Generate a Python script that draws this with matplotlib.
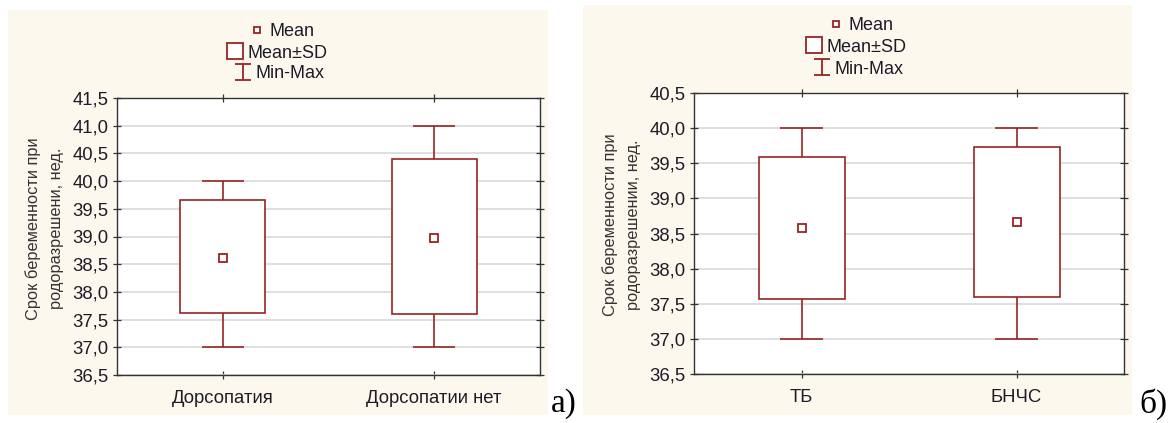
import matplotlib.pyplot as plt
from matplotlib.lines import Line2D
from matplotlib.patches import Rectangle
from matplotlib.path import Path

plt.rcParams['font.family'] = ['Liberation Sans', 'DejaVu Sans']

# panel a
cats_a = ['Дорсопатия', 'Дорсопатии нет']
mean_a = [38.62, 38.98]
sd_lo_a = [37.62, 37.60]
sd_hi_a = [39.65, 40.40]
min_a = [37.0, 37.0]
max_a = [40.0, 41.0]
yticks_a = [36.5, 37.0, 37.5, 38.0, 38.5, 39.0, 39.5, 40.0, 40.5, 41.0, 41.5]
ylabel_a = 'Срок беременности при\nродоразрешени, нед.'

# panel b
cats_b = ['ТБ', 'БНЧС']
mean_b = [38.58, 38.66]
sd_lo_b = [37.57, 37.60]
sd_hi_b = [39.59, 39.73]
min_b = [37.0, 37.0]
max_b = [40.0, 40.0]
yticks_b = [36.5, 37.0, 37.5, 38.0, 38.5, 39.0, 39.5, 40.0, 40.5]
ylabel_b = 'Срок беременности при\nродоразрешении, нед.'

RED = '#9a2323'
CREAM = '#fdf8ee'
TXT = '#1c1c28'
W, H = 1176, 423

# marker shaped like the Min-Max whisker
whisker_marker = Path([(-1, -1), (1, -1), (0, -1), (0, 1), (-1, 1), (1, 1)],
                      [Path.MOVETO, Path.LINETO, Path.MOVETO, Path.LINETO, Path.MOVETO, Path.LINETO])


def fx(px):
    return px / W


def fy(py):
    return 1 - py / H


def draw_panel(fig, box, cats, mean, lo, hi, mn, mx, yticks, ylabel):
    x0, y0, x1, y1 = box
    ax = fig.add_axes([fx(x0), fy(y1), fx(x1 - x0), (y1 - y0) / H])
    ax.set_facecolor('white')
    xs = list(range(len(cats)))

    ax.set_xlim(-0.5, len(cats) - 0.5)
    ax.set_ylim(yticks[0], yticks[-1])
    ax.set_yticks(yticks)
    ax.set_yticklabels([f'{t:.1f}'.replace('.', ',') for t in yticks])
    ax.set_xticks(xs)
    ax.set_xticklabels(cats, fontsize=13.3)
    ax.yaxis.grid(True, color='#dcdcdc', linewidth=1.3)
    ax.set_axisbelow(True)

    # whiskers
    ax.vlines(xs, mn, lo, color=RED, linewidth=1.2, zorder=3)
    ax.vlines(xs, hi, mx, color=RED, linewidth=1.2, zorder=3)
    ax.hlines(mn, [x - 0.1 for x in xs], [x + 0.1 for x in xs], color=RED, linewidth=1.2, zorder=3)
    ax.hlines(mx, [x - 0.1 for x in xs], [x + 0.1 for x in xs], color=RED, linewidth=1.2, zorder=3)
    # mean +- sd boxes
    ax.bar(xs, [h - l for h, l in zip(hi, lo)], bottom=lo, width=0.4,
           facecolor='white', edgecolor=RED, linewidth=1.2, zorder=3)
    # means
    ax.plot(xs, mean, linestyle='none', marker='s', markersize=5.5,
            markerfacecolor='white', markeredgecolor=RED, markeredgewidth=1.3, zorder=4)

    for s in ax.spines.values():
        s.set_color('#333333')
        s.set_linewidth(1.0)
    ax.tick_params(axis='both', direction='inout', length=6, width=0.9, color='#333333',
                   labelcolor=TXT, left=True, right=True, top=True, bottom=True)
    ax.tick_params(axis='y', pad=3, labelsize=13.3)
    ax.tick_params(axis='x', pad=8)
    ax.set_ylabel(ylabel, fontsize=11.8, color='#333333', labelpad=6, linespacing=1.7)
    ax.yaxis.label.set_y(0.53)
    return ax


fig = plt.figure(figsize=(W / 100, H / 100), dpi=100)
fig.patch.set_facecolor('white')

# cream panel backgrounds
fig.patches.append(Rectangle((fx(8), fy(415)), fx(540), 405 / H, transform=fig.transFigure,
                             facecolor=CREAM, edgecolor='none', zorder=-1))
fig.patches.append(Rectangle((fx(583), fy(415)), fx(549), 410 / H, transform=fig.transFigure,
                             facecolor=CREAM, edgecolor='none', zorder=-1))

draw_panel(fig, (117, 98, 540, 375), cats_a, mean_a, sd_lo_a, sd_hi_a, min_a, max_a, yticks_a, ylabel_a)
draw_panel(fig, (694, 93, 1124, 374), cats_b, mean_b, sd_lo_b, sd_hi_b, min_b, max_b, yticks_b, ylabel_b)

# legends above each panel, one row per entry
legend_rows = [
    (Line2D([], [], linestyle='none', marker='s', markersize=5, markerfacecolor='white',
            markeredgecolor=RED, markeredgewidth=1.3), 'Mean', 0),
    (Line2D([], [], linestyle='none', marker='s', markersize=12, markerfacecolor='white',
            markeredgecolor=RED, markeredgewidth=1.3), 'Mean±SD', -4),
    (Line2D([], [], linestyle='none', marker=whisker_marker, markersize=11,
            markeredgecolor=RED, markeredgewidth=1.3), 'Min-Max', -2),
]
for cx, rows_y in [(282, (32, 53, 74)), (861, (26, 47, 69))]:
    for (h, lab, dx), ry in zip(legend_rows, rows_y):
        fig.legend([h], [lab], loc='center', bbox_to_anchor=(fx(cx + dx), fy(ry)),
                   frameon=False, fontsize=13, handlelength=0.8, handletextpad=0.3,
                   borderpad=0, labelcolor=TXT)

fig.text(fx(564), fy(404), 'а)', fontsize=24, family='Liberation Serif', ha='center', va='center')
fig.text(fx(1153), fy(404), 'б)', fontsize=24, family='Liberation Serif', ha='center', va='center')

fig.savefig('out.png', dpi=100, facecolor='white')
